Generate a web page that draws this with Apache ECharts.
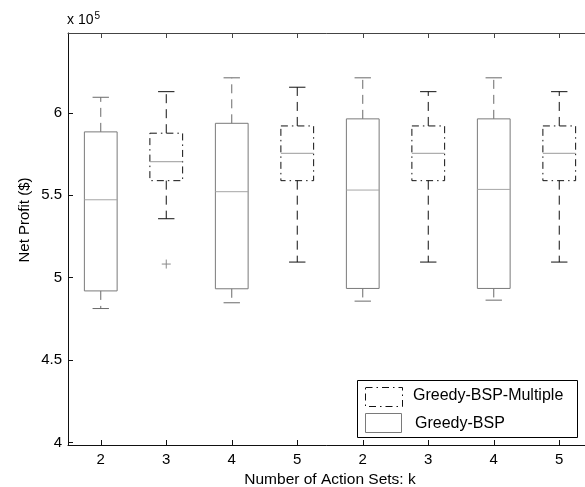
<!DOCTYPE html>
<html>
<head>
<meta charset="utf-8">
<script src="https://cdn.jsdelivr.net/npm/echarts@6/dist/echarts.min.js"></script>
<style>html,body{margin:0;padding:0;background:#fff}#c{width:585px;height:487px}</style>
</head>
<body>
<div id="c"></div>
<script>
// Category tick labels (k) for the 8 box positions
const categories = ['2', '3', '4', '5', '2', '3', '4', '5'];
// Which method each box belongs to
const methods = ['Greedy-BSP', 'Greedy-BSP-Multiple', 'Greedy-BSP', 'Greedy-BSP-Multiple',
                 'Greedy-BSP', 'Greedy-BSP-Multiple', 'Greedy-BSP', 'Greedy-BSP-Multiple'];
// Box statistics, in units of 10^5 $
const lowerWhisker = [4.813, 5.358, 4.848, 5.095, 4.858, 5.095, 4.864, 5.095];
const quartile1    = [4.920, 5.589, 4.933, 5.589, 4.935, 5.589, 4.935, 5.589];
const medians      = [5.473, 5.704, 5.522, 5.755, 5.532, 5.755, 5.536, 5.755];
const quartile3    = [5.885, 5.877, 5.937, 5.921, 5.964, 5.921, 5.964, 5.921];
const upperWhisker = [6.095, 6.129, 6.213, 6.156, 6.213, 6.129, 6.213, 6.129];
// Outliers: [box position (1-based), value]
const outlierPos   = [2];
const outlierVal   = [5.083];
// Y tick labels
const yTicks = [4, 4.5, 5, 5.5, 6];
const xTicks = [1, 2, 3, 4, 5, 6, 7, 8];

const FONT = '"Liberation Sans", Arial, Helvetica, sans-serif';

const boxData = categories.map((c, i) => [i + 1, lowerWhisker[i], quartile1[i], medians[i], quartile3[i], upperWhisker[i], methods[i] === 'Greedy-BSP-Multiple' ? 1 : 0]);
const outlierData = outlierPos.map((p, i) => [p, outlierVal[i]]);

function renderBox(params, api) {
  const x = api.value(0);
  const multi = api.value(6) === 1;
  const w = api.size([0.5, 0])[0];
  const pLow = api.coord([x, api.value(1)]);
  const pQ1 = api.coord([x, api.value(2)]);
  const pMed = api.coord([x, api.value(3)]);
  const pQ3 = api.coord([x, api.value(4)]);
  const pHigh = api.coord([x, api.value(5)]);
  const cx = pLow[0];
  const edge = multi ? '#111' : '#7a7a7a';
  const whisk = multi ? '#111' : '#6a6a6a';
  const med = multi ? '#9a9a9a' : '#a6a6a6';
  const dash = [9, 6];
  const boxDash = multi ? [7, 4, 1.5, 4] : null;
  const cw = w / 4;
  return {
    type: 'group',
    children: [
      { type: 'line', shape: { x1: cx, y1: pQ3[1], x2: cx, y2: pHigh[1] }, style: { stroke: whisk, lineWidth: 1, lineDash: dash } },
      { type: 'line', shape: { x1: cx, y1: pQ1[1], x2: cx, y2: pLow[1] }, style: { stroke: whisk, lineWidth: 1, lineDash: dash } },
      { type: 'line', shape: { x1: cx - cw, y1: pHigh[1], x2: cx + cw, y2: pHigh[1] }, style: { stroke: whisk, lineWidth: 1 } },
      { type: 'line', shape: { x1: cx - cw, y1: pLow[1], x2: cx + cw, y2: pLow[1] }, style: { stroke: whisk, lineWidth: 1 } },
      { type: 'rect', shape: { x: cx - w / 2, y: pQ3[1], width: w, height: pQ1[1] - pQ3[1] }, style: { fill: 'none', stroke: edge, lineWidth: 1, lineDash: boxDash } },
      { type: 'line', shape: { x1: cx - w / 2, y1: pMed[1], x2: cx + w / 2, y2: pMed[1] }, style: { stroke: med, lineWidth: 1 } }
    ]
  };
}

function renderOutlier(params, api) {
  const p = api.coord([api.value(0), api.value(1)]);
  const s = 4.5;
  return {
    type: 'group',
    children: [
      { type: 'line', shape: { x1: p[0] - s, y1: p[1], x2: p[0] + s, y2: p[1] }, style: { stroke: '#8a8a8a', lineWidth: 1 } },
      { type: 'line', shape: { x1: p[0], y1: p[1] - s, x2: p[0], y2: p[1] + s }, style: { stroke: '#8a8a8a', lineWidth: 1 } }
    ]
  };
}

const chart = echarts.init(document.getElementById('c'), null, { renderer: 'canvas' });
chart.setOption({
  animation: false,
  backgroundColor: '#fff',
  textStyle: { fontFamily: FONT },
  grid: { left: 68, top: 33, width: 524, height: 412, containLabel: false, outerBoundsMode: 'none' },
  xAxis: [{
    type: 'value', min: 0.5, max: 8.5, position: 'bottom',
    name: 'Number of Action Sets: k', nameLocation: 'middle', nameGap: 24,
    nameTextStyle: { color: '#000', fontSize: 15.5, fontFamily: FONT },
    axisLine: { show: true, lineStyle: { color: '#111', width: 1 } },
    axisTick: { show: true, inside: true, length: 5, customValues: xTicks, lineStyle: { color: '#111' } },
    axisLabel: { show: true, customValues: xTicks, margin: 7, color: '#000', fontSize: 15, fontFamily: FONT,
      formatter: v => categories[Math.round(v) - 1] },
    splitLine: { show: false }
  }, {
    type: 'value', min: 0.5, max: 8.5, position: 'top',
    axisLine: { show: true, lineStyle: { color: '#444', width: 1 } },
    axisTick: { show: true, inside: true, length: 5, customValues: xTicks, lineStyle: { color: '#444' } },
    axisLabel: { show: false },
    splitLine: { show: false }
  }],
  yAxis: [{
    type: 'value', min: 3.985, max: 6.485, position: 'left',
    axisLine: { show: true, lineStyle: { color: '#111', width: 1 } },
    axisTick: { show: true, inside: true, length: 5, customValues: yTicks, lineStyle: { color: '#111' } },
    axisLabel: { show: true, customValues: yTicks, margin: 6, color: '#000', fontSize: 15, fontFamily: FONT,
      formatter: v => String(v) },
    splitLine: { show: false }
  }],
  series: [{
    type: 'custom', name: 'boxes', renderItem: renderBox, data: boxData,
    encode: { x: 0, y: [1, 2, 3, 4, 5] }, clip: false
  }, {
    type: 'custom', name: 'outliers', renderItem: renderOutlier, data: outlierData,
    encode: { x: 0, y: 1 }
  }],
  graphic: [
    { type: 'text', left: 67, top: 11, style: { text: 'x 10{s|5}', fill: '#000', font: '14px ' + FONT,
      rich: { s: { fontSize: 10, verticalAlign: 'top', padding: [0, 0, 8, 1], fontFamily: FONT } } } },
    { type: 'text', x: 25, y: 220, rotation: Math.PI / 2, style: { text: 'Net Profit ($)', fill: '#000', font: '15px ' + FONT, align: 'center', verticalAlign: 'middle' } },
    // legend
    { type: 'rect', shape: { x: 357.5, y: 380.5, width: 220, height: 57 }, style: { fill: '#fff', stroke: '#000', lineWidth: 1 }, z: 10 },
    { type: 'rect', shape: { x: 365.5, y: 387.5, width: 37, height: 19 }, style: { fill: 'none', stroke: '#111', lineWidth: 1, lineDash: [7, 4, 1.5, 4] }, z: 11 },
    { type: 'text', x: 413, y: 396, style: { text: 'Greedy-BSP-Multiple', fill: '#000', font: '16px ' + FONT, verticalAlign: 'middle' }, z: 11 },
    { type: 'rect', shape: { x: 365.5, y: 413.5, width: 36, height: 19 }, style: { fill: 'none', stroke: '#7a7a7a', lineWidth: 1 }, z: 11 },
    { type: 'text', x: 415, y: 424, style: { text: 'Greedy-BSP', fill: '#000', font: '16px ' + FONT, verticalAlign: 'middle' }, z: 11 }
  ]
});
</script>
</body>
</html>
